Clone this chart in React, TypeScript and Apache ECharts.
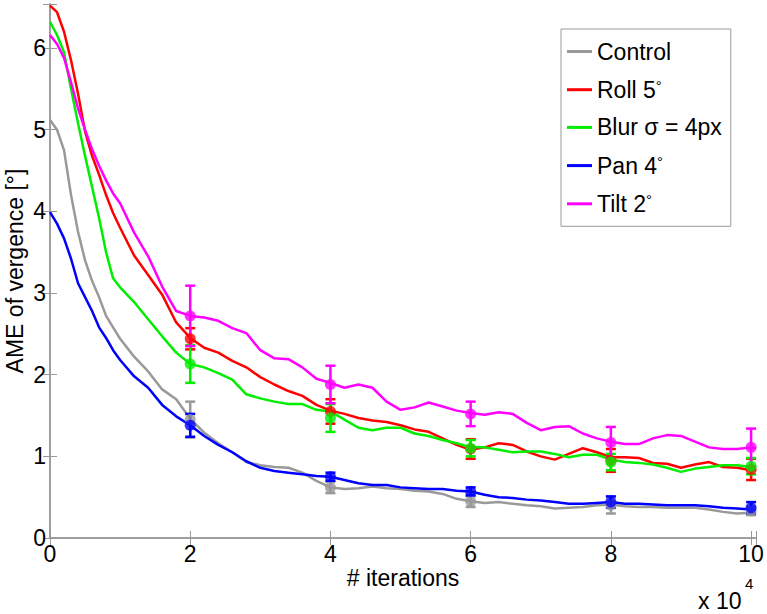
import React, { useEffect, useRef } from "react";
import * as echarts from "echarts";

// x in units of 10^4 iterations
const iterX = [0, 0.1, 0.2, 0.3, 0.4, 0.5, 0.6, 0.7, 0.8, 0.9, 1.0, 1.2, 1.4, 1.6, 1.8, 2.0, 2.2, 2.4, 2.6, 2.8, 3.0, 3.2, 3.4, 3.6, 3.8, 4.0, 4.2, 4.4, 4.6, 4.8, 5.0, 5.2, 5.4, 5.6, 5.8, 6.0, 6.2, 6.4, 6.6, 6.8, 7.0, 7.2, 7.4, 7.6, 7.8, 8.0, 8.2, 8.4, 8.6, 8.8, 9.0, 9.2, 9.4, 9.6, 9.8, 10.0, 10.07];

const controlY = [5.12, 5.0, 4.75, 4.2, 3.75, 3.4, 3.15, 2.95, 2.72, 2.58, 2.44, 2.22, 2.04, 1.82, 1.7, 1.46, 1.29, 1.16, 1.05, 0.93, 0.89, 0.87, 0.86, 0.8, 0.7, 0.62, 0.6, 0.61, 0.63, 0.61, 0.6, 0.58, 0.57, 0.54, 0.48, 0.45, 0.43, 0.44, 0.42, 0.4, 0.39, 0.36, 0.37, 0.38, 0.4, 0.41, 0.39, 0.38, 0.38, 0.37, 0.37, 0.37, 0.35, 0.32, 0.3, 0.31, 0.31];
const rollY = [6.52, 6.44, 6.2, 5.85, 5.44, 4.98, 4.68, 4.45, 4.2, 3.98, 3.8, 3.46, 3.22, 2.98, 2.64, 2.45, 2.33, 2.27, 2.17, 2.09, 1.97, 1.88, 1.8, 1.74, 1.63, 1.56, 1.52, 1.47, 1.44, 1.42, 1.38, 1.33, 1.3, 1.22, 1.14, 1.08, 1.11, 1.16, 1.14, 1.06, 1.0, 0.96, 1.03, 1.1, 1.05, 0.99, 0.99, 0.98, 0.92, 0.91, 0.86, 0.9, 0.93, 0.87, 0.86, 0.83, 0.84];
const blurY = [6.32, 6.16, 5.95, 5.5, 5.08, 4.68, 4.3, 3.92, 3.5, 3.18, 3.07, 2.89, 2.68, 2.47, 2.27, 2.13, 2.09, 2.02, 1.94, 1.76, 1.71, 1.67, 1.64, 1.64, 1.57, 1.55, 1.45, 1.35, 1.32, 1.35, 1.35, 1.28, 1.25, 1.2, 1.16, 1.11, 1.11, 1.08, 1.05, 1.06, 1.06, 1.03, 0.99, 1.02, 1.02, 0.96, 0.93, 0.92, 0.9, 0.86, 0.81, 0.85, 0.87, 0.89, 0.89, 0.87, 0.88];
const panY = [3.99, 3.85, 3.67, 3.42, 3.12, 2.95, 2.78, 2.58, 2.45, 2.3, 2.18, 1.98, 1.84, 1.63, 1.49, 1.38, 1.25, 1.14, 1.05, 0.94, 0.86, 0.82, 0.8, 0.78, 0.76, 0.75, 0.71, 0.67, 0.65, 0.65, 0.62, 0.61, 0.6, 0.6, 0.58, 0.57, 0.53, 0.5, 0.49, 0.47, 0.46, 0.44, 0.42, 0.42, 0.43, 0.44, 0.42, 0.42, 0.41, 0.4, 0.4, 0.4, 0.39, 0.37, 0.36, 0.35, 0.36];
const tiltY = [6.16, 6.05, 5.88, 5.58, 5.26, 5.0, 4.76, 4.56, 4.38, 4.22, 4.1, 3.74, 3.45, 3.08, 2.78, 2.72, 2.7, 2.66, 2.57, 2.51, 2.3, 2.2, 2.19, 2.09, 1.95, 1.9, 1.84, 1.88, 1.84, 1.67, 1.57, 1.6, 1.66, 1.61, 1.56, 1.53, 1.51, 1.54, 1.52, 1.41, 1.32, 1.36, 1.37, 1.28, 1.22, 1.18, 1.15, 1.15, 1.22, 1.26, 1.25, 1.18, 1.11, 1.09, 1.09, 1.11, 1.1];

// error-bar checkpoints
const markX = [2, 4, 6, 8, 10];
const controlMean = [1.45, 0.62, 0.45, 0.4, 0.33];
const controlErr = [0.22, 0.07, 0.07, 0.1, 0.05];
const rollMean = [2.44, 1.55, 1.09, 0.95, 0.84];
const rollErr = [0.13, 0.15, 0.12, 0.14, 0.13];
const blurMean = [2.13, 1.47, 1.1, 0.93, 0.88];
const blurErr = [0.23, 0.17, 0.1, 0.1, 0.1];
const panMean = [1.38, 0.75, 0.57, 0.44, 0.37];
const panErr = [0.14, 0.05, 0.05, 0.07, 0.07];
const tiltMean = [2.72, 1.88, 1.52, 1.17, 1.11];
const tiltErr = [0.37, 0.23, 0.15, 0.19, 0.23];

const seriesNames = ["Control", "Roll 5°", "Blur σ = 4px", "Pan 4°", "Tilt 2°"];
const seriesColors = ["#999999", "#ff0000", "#00ee00", "#0000ff", "#ff00ff"];
const legendRich: Record<string, string> = {
  "Control": "{t|Control}",
  "Roll 5°": "{t|Roll 5}{s|°}",
  "Blur σ = 4px": "{t|Blur σ = 4px}",
  "Pan 4°": "{t|Pan 4}{s|°}",
  "Tilt 2°": "{t|Tilt 2}{s|°}",
};

const xTicks = [0, 2, 4, 6, 8, 10];
const yTicks = [0, 1, 2, 3, 4, 5, 6];

const FONT = "'Liberation Sans', Arial, Helvetica, sans-serif";

export default function App() {
  const ref = useRef<HTMLDivElement>(null);
  useEffect(() => {
    if (!ref.current) return;
    const chart = echarts.init(ref.current, null, { renderer: "svg" });
    const lines = [controlY, rollY, blurY, panY, tiltY];
    const means = [controlMean, rollMean, blurMean, panMean, tiltMean];
    const errs = [controlErr, rollErr, blurErr, panErr, tiltErr];

    const series: any[] = [];
    lines.forEach((ys, i) => {
      series.push({
        name: seriesNames[i],
        type: "line",
        data: iterX.map((x, k) => [x, ys[k]]),
        showSymbol: false,
        symbol: "none",
        lineStyle: { color: seriesColors[i], width: 2.5 },
        itemStyle: { color: seriesColors[i] },
        z: 2,
      });
    });
    means.forEach((m, i) => {
      series.push({
        name: seriesNames[i] + " err",
        type: "custom",
        z: 3,
        clip: false,
        data: markX.map((x, k) => [x, m[k] - errs[i][k], m[k] + errs[i][k]]),
        renderItem: (params: any, api: any) => {
          const x = api.value(0);
          const lo = api.coord([x, api.value(1)]);
          const hi = api.coord([x, api.value(2)]);
          const cap = 5;
          const style = { stroke: seriesColors[i], lineWidth: 2.5 };
          return {
            type: "group",
            children: [
              { type: "line", shape: { x1: lo[0], y1: lo[1], x2: hi[0], y2: hi[1] }, style },
              { type: "line", shape: { x1: lo[0] - cap, y1: lo[1], x2: lo[0] + cap, y2: lo[1] }, style },
              { type: "line", shape: { x1: hi[0] - cap, y1: hi[1], x2: hi[0] + cap, y2: hi[1] }, style },
            ],
          };
        },
      });
      series.push({
        name: seriesNames[i] + " mean",
        type: "scatter",
        z: 4,
        symbol: "circle",
        symbolSize: 11,
        data: markX.map((x, k) => [x, m[k]]),
        itemStyle: { color: seriesColors[i] },
      });
    });

    const axisColor = "#999999";
    const labelFmt = (v: number, ticks: number[]) => (ticks.indexOf(Math.round(v * 1000) / 1000) >= 0 ? String(v) : "");

    chart.setOption({
      animation: false,
      backgroundColor: "#ffffff",
      grid: { left: 50, right: 11, top: 4, bottom: 76, containLabel: false, outerBoundsMode: "none" },
      xAxis: [
        {
          type: "value",
          min: 0,
          max: 10.07,
          interval: 2,
          position: "bottom",
          name: "# iterations",
          nameLocation: "middle",
          nameGap: 28,
          nameMoveOverlap: false,
          nameTextStyle: { fontSize: 23, fontFamily: FONT, color: "#000" },
          axisLine: { show: true, lineStyle: { color: axisColor, width: 1.5 } },
          axisTick: { show: true, inside: true, length: 7, lineStyle: { color: axisColor } },
          axisLabel: { fontSize: 23, fontFamily: FONT, color: "#000", margin: 4, formatter: (v: number) => labelFmt(v, xTicks) },
          splitLine: { show: false },
        },
        {
          type: "value",
          min: 0,
          max: 10.07,
          interval: 2,
          position: "top",
          axisLine: { show: true, lineStyle: { color: axisColor, width: 1.5 } },
          axisTick: { show: true, inside: true, length: 7, lineStyle: { color: axisColor } },
          axisLabel: { show: false },
          splitLine: { show: false },
        },
      ],
      yAxis: [
        {
          type: "value",
          min: 0,
          max: 6.54,
          interval: 1,
          position: "left",
          name: "AME of vergence [°]",
          nameLocation: "middle",
          nameGap: 24,
          nameMoveOverlap: false,
          nameTextStyle: { fontSize: 23, fontFamily: FONT, color: "#000" },
          axisLine: { show: true, lineStyle: { color: axisColor, width: 1.5 } },
          axisTick: { show: true, inside: true, length: 7, lineStyle: { color: axisColor } },
          axisLabel: { fontSize: 23, fontFamily: FONT, color: "#000", margin: 4, formatter: (v: number) => labelFmt(v, yTicks) },
          splitLine: { show: false },
        },
        {
          type: "value",
          min: 0,
          max: 6.54,
          interval: 1,
          position: "right",
          axisLine: { show: true, lineStyle: { color: axisColor, width: 1.5 } },
          axisTick: { show: true, inside: true, length: 7, lineStyle: { color: axisColor } },
          axisLabel: { show: false },
          splitLine: { show: false },
        },
      ],
      legend: {
        data: seriesNames,
        orient: "vertical",
        left: 561,
        top: 29,
        padding: [11, 9, 11, 6],
        itemGap: 14.7,
        itemWidth: 25,
        itemHeight: 3,
        icon: "rect",
        backgroundColor: "#ffffff",
        borderColor: "#999999",
        borderWidth: 1,
        borderRadius: 0,
        selectedMode: false,
        formatter: (name: string) => legendRich[name] || name,
        textStyle: {
          fontFamily: FONT,
          fontSize: 23,
          color: "#000",
          rich: {
            t: { fontFamily: FONT, fontSize: 23, color: "#000", lineHeight: 24 },
            s: { fontFamily: FONT, fontSize: 15, color: "#000", verticalAlign: "top", lineHeight: 10 },
          },
        },
      },
      graphic: [
        {
          type: "text",
          left: 698,
          top: 589,
          style: { text: "x 10", fontFamily: FONT, fontSize: 23, fill: "#000" },
        },
        {
          type: "text",
          left: 745,
          top: 576,
          style: { text: "4", fontFamily: FONT, fontSize: 15, fill: "#000" },
        },
      ],
      series,
    });
    return () => chart.dispose();
  }, []);
  return <div ref={ref} style={{ position: "fixed", left: 0, top: 0, width: 767, height: 614 }} />;
}
